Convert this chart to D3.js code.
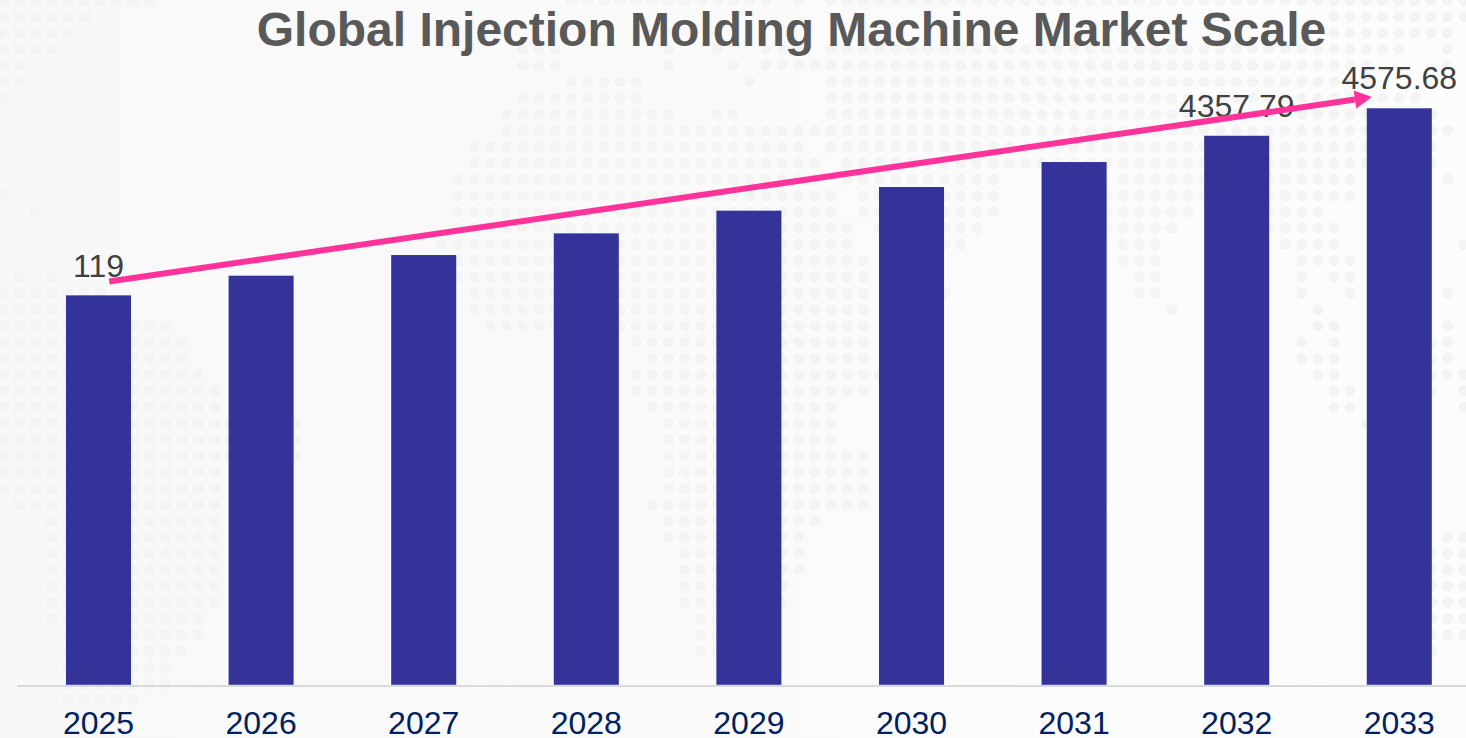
<!DOCTYPE html>
<html>
<head>
<meta charset="utf-8">
<title>Global Injection Molding Machine Market Scale</title>
<script src="https://cdn.jsdelivr.net/npm/d3@7"></script>
<style>
    html, body { margin: 0; padding: 0; background: #fafafa; overflow: hidden; }
    svg { display: block; font-family: "Liberation Sans", Arial, sans-serif; }
    .axis-x path, .axis-x line { display: none; }
</style>
</head>
<body>
<div id="chart"></div>
<script>
const titleText = "Global Injection Molding Machine Market Scale";
const years = ["2025", "2026", "2027", "2028", "2029", "2030", "2031", "2032", "2033"];
// bar heights; 2032 and 2033 are the printed values
const values = [3091, 3247, 3411, 3583, 3763, 3951, 4149, 4357.79, 4575.68];
// the source prints these labels as is, "119" does not match its bar
const valueLabels = ["119", "", "", "", "", "", "", "4357.79", "4575.68"];
const trendYears = ["2025", "2033"];
const trendValues = [3201, 4665];

// Dotted world map behind the chart: [row, colFrom, colTo]
const mapSpans = [
    [0,0,9],[0,35,47],[0,49,49],[0,51,90],
    [1,0,5],[1,82,90],[2,0,4],[2,82,89],[3,0,3],[3,32,34],[3,41,41],[3,44,44],[3,47,49],[3,51,86],[3,89,89],
    [4,0,1],[4,32,34],[4,41,41],[4,45,45],[4,47,84],[4,89,89],
    [5,0,1],[5,35,39],[5,46,46],[5,51,84],[6,0,0],[6,32,39],[6,51,87],
    [7,31,41],[7,44,45],[7,51,88],[8,31,89],[9,29,49],[9,51,88],[10,29,50],[10,52,88],
    [11,28,50],[11,52,61],[11,69,83],[11,89,89],
    [12,0,0],[12,28,51],[12,53,61],[12,68,83],
    [13,2,2],[13,28,51],[13,53,61],[13,68,73],[13,77,81],
    [14,28,52],[14,54,60],[14,68,72],[14,77,82],
    [15,27,52],[15,55,59],[15,69,71],[15,79,82],[15,90,90],
    [16,28,53],[16,69,71],[16,80,83],
    [17,1,1],[17,3,3],[17,28,53],[17,70,71],[17,80,80],[17,82,83],
    [18,0,6],[18,29,53],[18,58,58],[18,70,71],[18,80,80],[18,83,83],[18,89,89],
    [19,0,5],[19,29,53],[19,72,72],[19,81,81],
    [20,0,10],[20,30,53],[20,81,82],[20,89,89],
    [21,0,11],[21,39,53],[21,80,80],[21,82,82],[21,88,89],
    [22,0,11],[22,40,53],[22,80,82],[22,88,89],
    [23,0,12],[23,39,54],[23,81,82],[23,88,90],
    [24,0,13],[24,39,53],[24,82,83],[24,88,88],[24,90,90],
    [25,0,13],[25,40,51],[25,82,83],[25,90,90],
    [26,0,18],[26,41,51],[26,84,84],
    [27,0,18],[27,41,51],[28,0,18],[28,41,53],
    [29,0,13],[29,41,53],[30,0,13],[30,41,53],
    [31,1,13],[31,40,53],[32,3,13],[32,41,50],
    [33,3,13],[33,41,49],[33,89,90],[34,3,13],[34,42,49],[34,88,90],
    [35,3,13],[35,42,49],[35,88,90],[36,3,13],[36,42,48],[36,88,90],
    [37,3,13],[37,42,48],[37,88,90],[38,3,12],[38,43,47],[38,88,90],
    [39,4,12],[39,43,44],[39,88,90],[40,4,11],[40,43,44],[40,88,88],
    [41,4,10],[42,4,10],[43,4,8]
];

const buildChart = () => {
    // Graph Dimension Declarations
    const width = 1466;
    const height = 738;
    const axisLeft = 17.2;
    const axisRight = 1480.6;
    const baseY = 684.8;
    const topY = 108.3;

    const svg = d3.select("#chart")
        .append("svg")
        .attr("width", width)
        .attr("height", height);

    const grad = svg.append("defs").append("linearGradient")
        .attr("id", "bg-grad");
    grad.append("stop").attr("offset", "0%").attr("stop-color", "#f8f8f9");
    grad.append("stop").attr("offset", "100%").attr("stop-color", "#fcfcfc");

    svg.append("rect")
        .attr("width", width)
        .attr("height", height)
        .attr("fill", "url(#bg-grad)");

    // Background dots
    const colScale = d3.scaleLinear().domain([0, 90]).range([3.1, 1463.8]);
    const rowScale = d3.scaleLinear().domain([0, 43]).range([0.4, 700]);
    const dots = mapSpans.flatMap(([row, from, to]) =>
        d3.range(from, to + 1).map(col => ({ row, col })));

    svg.append("g").selectAll("circle")
        .data(dots)
        .enter()
        .append("circle")
        .attr("cx", d => colScale(d.col))
        .attr("cy", d => rowScale(d.row))
        .attr("r", 5.5)
        .attr("fill", "#f4f4f4");

    // Create Scales
    const xScale = d3.scaleBand()
        .domain(years)
        .range([axisLeft, axisRight])
        .paddingInner(0.6)
        .paddingOuter(0.3);

    const yScale = d3.scaleLinear()
        .domain([0, 4575.68])
        .range([baseY, topY]);

    svg.append("text")
        .attr("x", 791.5)
        .attr("y", 46)
        .attr("text-anchor", "middle")
        .attr("font-size", 48)
        .attr("font-weight", "bold")
        .attr("fill", "#595959")
        .text(titleText);

    svg.selectAll(".bar")
        .data(values)
        .enter()
        .append("rect")
        .attr("class", "bar")
        .attr("x", (d, i) => xScale(years[i]))
        .attr("y", d => yScale(d))
        .attr("width", xScale.bandwidth())
        .attr("height", d => baseY - yScale(d))
        .attr("fill", "#333399");

    // Baseline
    svg.append("line")
        .attr("x1", axisLeft)
        .attr("x2", width)
        .attr("y1", baseY + 1.2)
        .attr("y2", baseY + 1.2)
        .attr("stroke", "#d9d9d9")
        .attr("stroke-width", 2);

    const xAxis = d3.axisBottom(xScale).tickSize(0).tickPadding(0);
    const axisGroup = svg.append("g")
        .attr("class", "axis-x")
        .attr("transform", `translate(0, ${baseY})`)
        .call(xAxis);
    axisGroup.selectAll("text")
        .attr("dy", null)
        .attr("y", 49)
        .attr("font-family", "Liberation Sans")
        .attr("font-size", 32)
        .attr("fill", "#002060");

    const labelBaseline = [276.7, 0, 0, 0, 0, 0, 0, 116.7, 89.3];
    svg.selectAll(".value-label")
        .data(valueLabels)
        .enter()
        .append("text")
        .attr("class", "value-label")
        .attr("x", (d, i) => xScale(years[i]) + xScale.bandwidth() / 2)
        .attr("y", (d, i) => labelBaseline[i])
        .attr("text-anchor", "middle")
        .attr("font-size", 32)
        .attr("fill", "#404040")
        .text(d => d);

    // Trend arrow
    const x1 = xScale(trendYears[0]) + xScale.bandwidth() * 0.665;
    const y1 = yScale(trendValues[0]);
    const x2 = xScale(trendYears[1]) + xScale.bandwidth() * 0.077;
    const y2 = yScale(trendValues[1]);
    const angle = Math.atan2(y2 - y1, x2 - x1);
    const headLen = 17;

    svg.append("line")
        .attr("x1", x1)
        .attr("y1", y1)
        .attr("x2", x2 - headLen * Math.cos(angle))
        .attr("y2", y2 - headLen * Math.sin(angle))
        .attr("stroke", "#ff3399")
        .attr("stroke-width", 6);

    svg.append("path")
        .attr("d", d3.line()([[0, 0], [-headLen, -9], [-headLen, 9]]) + "Z")
        .attr("transform", `translate(${x2},${y2}) rotate(${angle * 180 / Math.PI})`)
        .attr("fill", "#ff3399");
}

buildChart();
</script>
</body>
</html>
